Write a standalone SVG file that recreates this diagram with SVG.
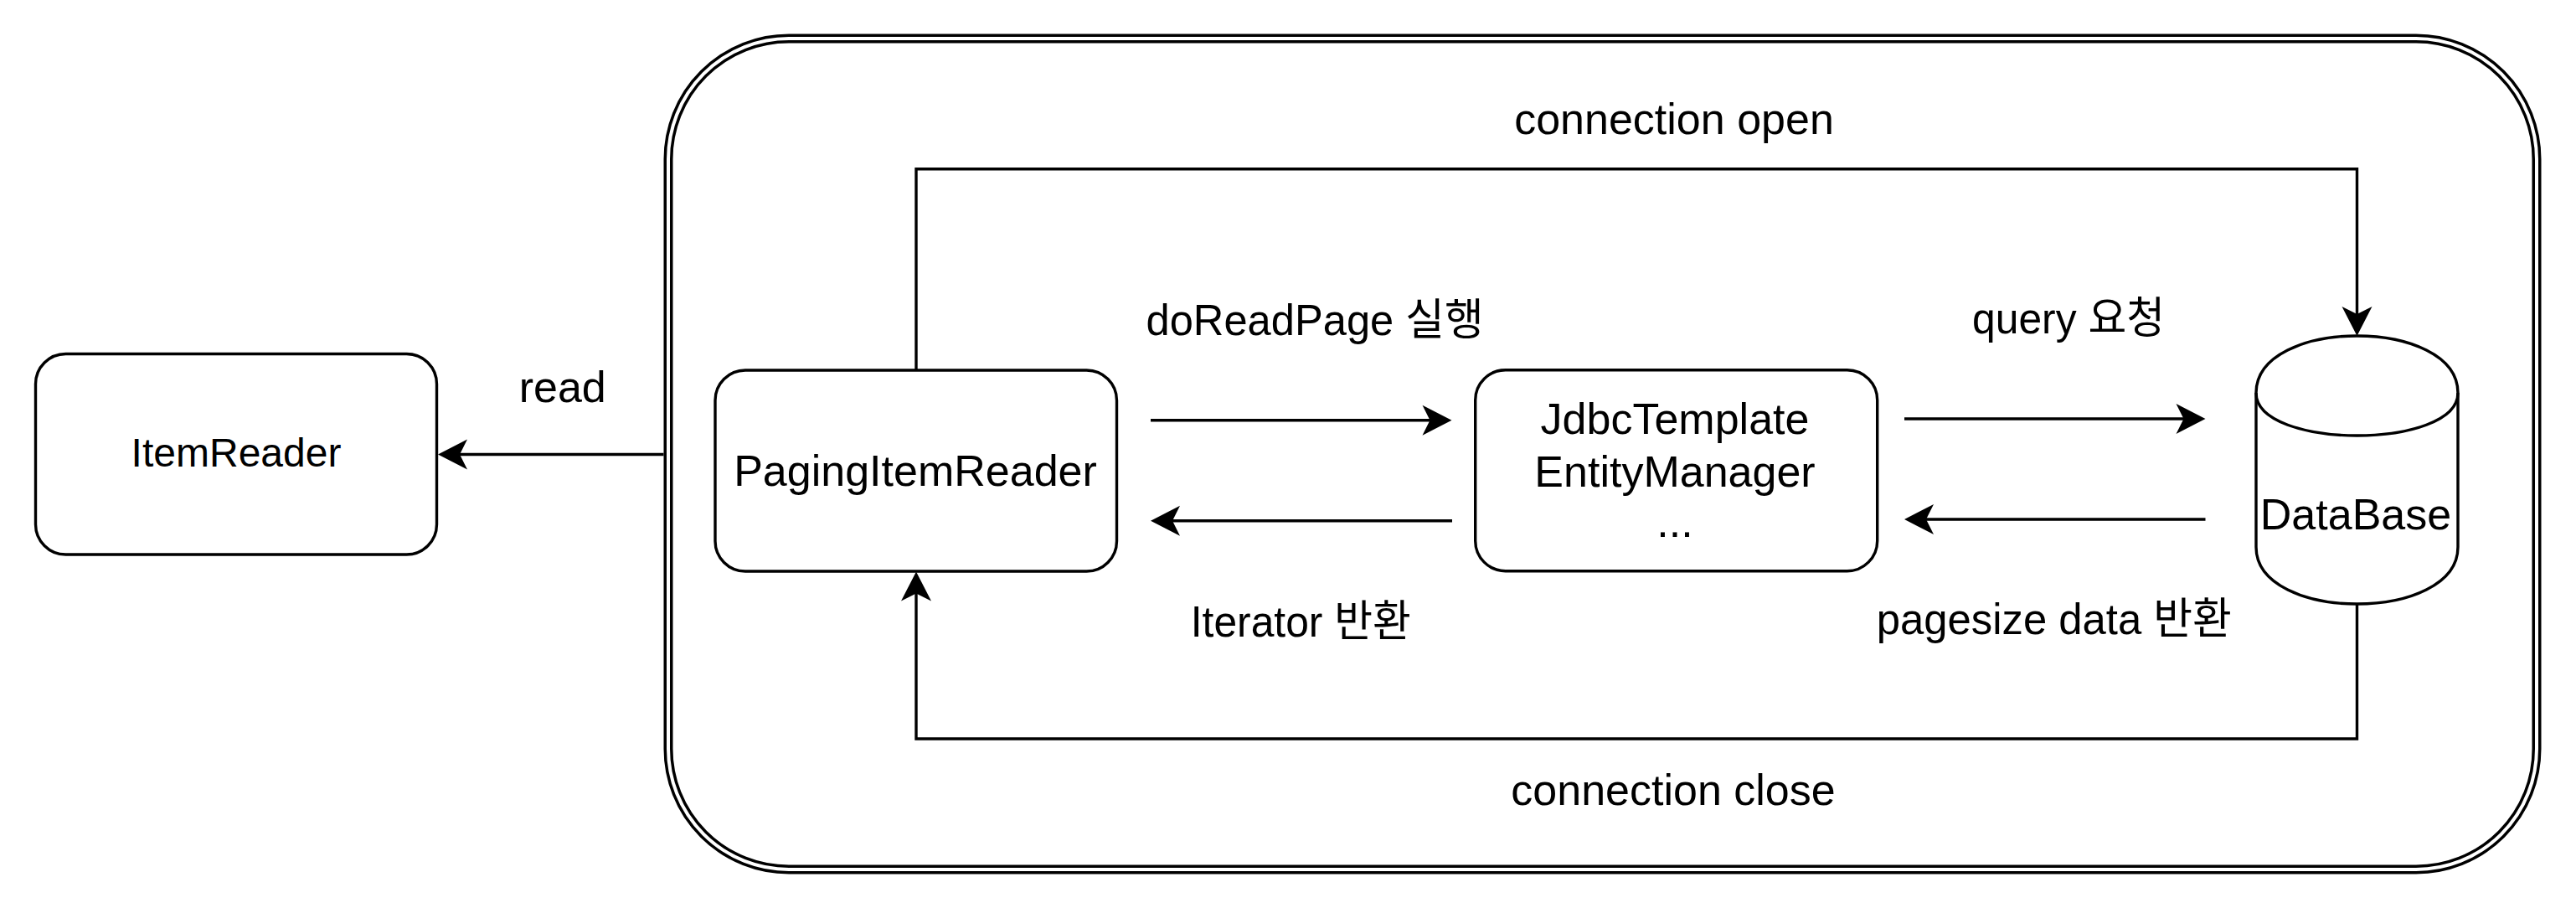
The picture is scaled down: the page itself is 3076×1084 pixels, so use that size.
<svg xmlns="http://www.w3.org/2000/svg" width="3076" height="1084" viewBox="0 0 3076 1084">
<style>
  .node { fill: #ffffff; stroke: #000000; stroke-width: 3.4; }
  .edge { fill: none; stroke: #000000; stroke-width: 3.4; marker-end: url(#arrow); }
  text { font-family: "Liberation Sans", Arial, Helvetica, "Noto Sans CJK KR", sans-serif; font-size: 52px; fill: #000000; text-anchor: middle; }
</style>
<defs>
  <marker id="arrow" markerUnits="userSpaceOnUse" viewBox="-37 -20 40 40" markerWidth="40" markerHeight="40" refX="-8" refY="0" orient="auto" overflow="visible">
    <path d="M0,0 L-35,-18 L-26,0 L-35,18 Z" fill="#000000"/>
  </marker>
</defs>
<rect x="0" y="0" width="3076" height="1084" fill="#ffffff"/>

<g id="container">
  <rect x="798" y="46" width="2231" height="992" rx="144" ry="144" fill="#ffffff" stroke="#000000" stroke-width="11"/>
  <rect x="798" y="46" width="2231" height="992" rx="144" ry="144" fill="none" stroke="#ffffff" stroke-width="4"/>
</g>

<g id="connectors">
  <path class="edge" d="M792.5,542.5 H531"/>
  <path class="edge" d="M1094,442 V201.7 H2814.5 V393"/>
  <path class="edge" d="M2814.5,721 V882 H1094 V690.5"/>
  <path class="edge" d="M1374,501.7 H1725.5"/>
  <path class="edge" d="M1734,621.7 H1382"/>
  <path class="edge" d="M2274,500 H2625.5"/>
  <path class="edge" d="M2633.5,620 H2282"/>
  <text x="671.7" y="480">read</text>
  <text x="1999" y="159.5">connection open</text>
  <text x="1998" y="961">connection close</text>
  <text x="1570" y="400" textLength="403" lengthAdjust="spacingAndGlyphs">doReadPage 실행</text>
  <text x="1553.3" y="760" textLength="263" lengthAdjust="spacingAndGlyphs">Iterator 반환</text>
  <text x="2470" y="398.3" textLength="230" lengthAdjust="spacingAndGlyphs">query 요청</text>
  <text x="2452.8" y="756.7" textLength="424" lengthAdjust="spacingAndGlyphs">pagesize data 반환</text>
</g>

<g id="itemReader">
  <rect class="node" x="42.5" y="422.5" width="479" height="239.5" rx="36" ry="36"/>
  <text x="282" y="556.7" style="font-size:48px">ItemReader</text>
</g>

<g id="pagingItemReader">
  <rect class="node" x="854" y="442" width="479.5" height="240" rx="36" ry="36"/>
  <text x="1093" y="580">PagingItemReader</text>
</g>

<g id="jdbcTemplate">
  <rect class="node" x="1761.7" y="441.7" width="480" height="240" rx="36" ry="36"/>
  <text x="2000" y="517.5">JdbcTemplate</text>
  <text x="2000" y="580.5">EntityManager</text>
  <text x="2000" y="641">...</text>
</g>

<g id="database">
  <path class="node" d="M2694,469 C2694,378.3 2935,378.3 2935,469 L2935,653 C2935,743.7 2694,743.7 2694,653 Z"/>
  <path d="M2694,469 C2694,537 2935,537 2935,469" fill="none" stroke="#000000" stroke-width="3.4"/>
  <text x="2813" y="631.7">DataBase</text>
</g>
</svg>
